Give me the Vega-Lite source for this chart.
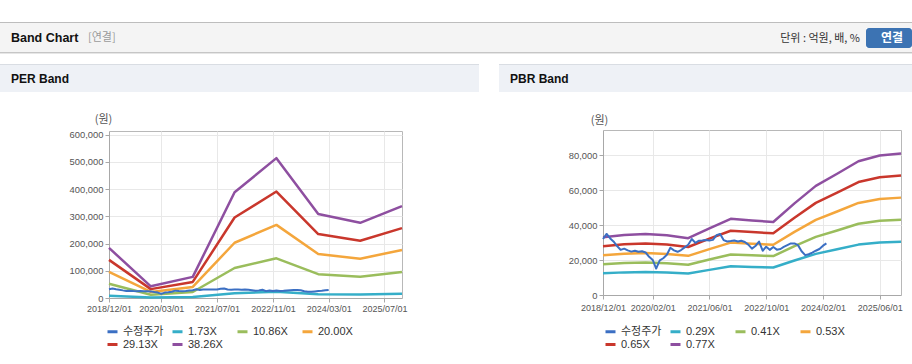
{
  "$schema": "https://vega.github.io/schema/vega-lite/v6.json",
  "background": "white",
  "padding": {"left": 0, "top": 22, "right": 0, "bottom": 0},
  "spacing": 10,
  "config": {"view": {"stroke": null}},
  "datasets": {
    "price": [
      {"date": "2018-12-01", "series": "수정주가", "value": 32000},
      {"date": "2019-01-01", "series": "수정주가", "value": 34900},
      {"date": "2019-02-01", "series": "수정주가", "value": 32300},
      {"date": "2019-03-01", "series": "수정주가", "value": 30600},
      {"date": "2019-04-01", "series": "수정주가", "value": 28000},
      {"date": "2019-05-01", "series": "수정주가", "value": 25800},
      {"date": "2019-06-01", "series": "수정주가", "value": 26500},
      {"date": "2019-07-01", "series": "수정주가", "value": 25500},
      {"date": "2019-08-01", "series": "수정주가", "value": 24800},
      {"date": "2019-09-01", "series": "수정주가", "value": 25300},
      {"date": "2019-10-01", "series": "수정주가", "value": 24700},
      {"date": "2019-11-01", "series": "수정주가", "value": 25000},
      {"date": "2019-12-01", "series": "수정주가", "value": 24300},
      {"date": "2020-01-01", "series": "수정주가", "value": 21800},
      {"date": "2020-02-01", "series": "수정주가", "value": 20000},
      {"date": "2020-03-01", "series": "수정주가", "value": 15100},
      {"date": "2020-04-01", "series": "수정주가", "value": 19800},
      {"date": "2020-05-01", "series": "수정주가", "value": 21000},
      {"date": "2020-06-01", "series": "수정주가", "value": 23000},
      {"date": "2020-07-01", "series": "수정주가", "value": 27000},
      {"date": "2020-08-01", "series": "수정주가", "value": 25500},
      {"date": "2020-09-01", "series": "수정주가", "value": 24700},
      {"date": "2020-10-01", "series": "수정주가", "value": 25700},
      {"date": "2020-11-01", "series": "수정주가", "value": 27200},
      {"date": "2020-12-01", "series": "수정주가", "value": 28700},
      {"date": "2021-01-01", "series": "수정주가", "value": 32000},
      {"date": "2021-02-01", "series": "수정주가", "value": 29800},
      {"date": "2021-03-01", "series": "수정주가", "value": 31000},
      {"date": "2021-04-01", "series": "수정주가", "value": 31100},
      {"date": "2021-05-01", "series": "수정주가", "value": 31400},
      {"date": "2021-06-01", "series": "수정주가", "value": 31200},
      {"date": "2021-07-01", "series": "수정주가", "value": 31500},
      {"date": "2021-08-01", "series": "수정주가", "value": 34200},
      {"date": "2021-09-01", "series": "수정주가", "value": 34900},
      {"date": "2021-10-01", "series": "수정주가", "value": 31400},
      {"date": "2021-11-01", "series": "수정주가", "value": 30600},
      {"date": "2021-12-01", "series": "수정주가", "value": 30800},
      {"date": "2022-01-01", "series": "수정주가", "value": 31100},
      {"date": "2022-02-01", "series": "수정주가", "value": 30600},
      {"date": "2022-03-01", "series": "수정주가", "value": 31000},
      {"date": "2022-04-01", "series": "수정주가", "value": 30300},
      {"date": "2022-05-01", "series": "수정주가", "value": 28800},
      {"date": "2022-06-01", "series": "수정주가", "value": 26500},
      {"date": "2022-07-01", "series": "수정주가", "value": 28000},
      {"date": "2022-08-01", "series": "수정주가", "value": 30500},
      {"date": "2022-09-01", "series": "수정주가", "value": 25300},
      {"date": "2022-10-01", "series": "수정주가", "value": 27600},
      {"date": "2022-11-01", "series": "수정주가", "value": 25800},
      {"date": "2022-12-01", "series": "수정주가", "value": 27400},
      {"date": "2023-01-01", "series": "수정주가", "value": 25900},
      {"date": "2023-02-01", "series": "수정주가", "value": 26300},
      {"date": "2023-03-01", "series": "수정주가", "value": 27500},
      {"date": "2023-04-01", "series": "수정주가", "value": 28500},
      {"date": "2023-05-01", "series": "수정주가", "value": 29500},
      {"date": "2023-06-01", "series": "수정주가", "value": 29500},
      {"date": "2023-07-01", "series": "수정주가", "value": 28500},
      {"date": "2023-08-01", "series": "수정주가", "value": 25000},
      {"date": "2023-09-01", "series": "수정주가", "value": 22800},
      {"date": "2023-10-01", "series": "수정주가", "value": 23300},
      {"date": "2023-11-01", "series": "수정주가", "value": 24200},
      {"date": "2023-12-01", "series": "수정주가", "value": 25300},
      {"date": "2024-01-01", "series": "수정주가", "value": 26300},
      {"date": "2024-02-01", "series": "수정주가", "value": 28200},
      {"date": "2024-03-01", "series": "수정주가", "value": 29500}
    ],
    "per": [
      {"date": "2018-12-01", "series": "1.73X", "value": 8320},
      {"date": "2019-12-01", "series": "1.73X", "value": 1940},
      {"date": "2020-12-01", "series": "1.73X", "value": 3510},
      {"date": "2021-12-01", "series": "1.73X", "value": 17560},
      {"date": "2022-12-01", "series": "1.73X", "value": 23230},
      {"date": "2023-12-01", "series": "1.73X", "value": 13960},
      {"date": "2024-12-01", "series": "1.73X", "value": 12490},
      {"date": "2025-12-01", "series": "1.73X", "value": 15260},
      {"date": "2018-12-01", "series": "10.86X", "value": 52240},
      {"date": "2019-12-01", "series": "10.86X", "value": 12160},
      {"date": "2020-12-01", "series": "10.86X", "value": 22050},
      {"date": "2021-12-01", "series": "10.86X", "value": 110230},
      {"date": "2022-12-01", "series": "10.86X", "value": 145850},
      {"date": "2023-12-01", "series": "10.86X", "value": 87640},
      {"date": "2024-12-01", "series": "10.86X", "value": 78410},
      {"date": "2025-12-01", "series": "10.86X", "value": 95790},
      {"date": "2018-12-01", "series": "20.00X", "value": 96200},
      {"date": "2019-12-01", "series": "20.00X", "value": 22400},
      {"date": "2020-12-01", "series": "20.00X", "value": 40600},
      {"date": "2021-12-01", "series": "20.00X", "value": 203000},
      {"date": "2022-12-01", "series": "20.00X", "value": 268600},
      {"date": "2023-12-01", "series": "20.00X", "value": 161400},
      {"date": "2024-12-01", "series": "20.00X", "value": 144400},
      {"date": "2025-12-01", "series": "20.00X", "value": 176400},
      {"date": "2018-12-01", "series": "29.13X", "value": 140120},
      {"date": "2019-12-01", "series": "29.13X", "value": 32630},
      {"date": "2020-12-01", "series": "29.13X", "value": 59130},
      {"date": "2021-12-01", "series": "29.13X", "value": 295670},
      {"date": "2022-12-01", "series": "29.13X", "value": 391220},
      {"date": "2023-12-01", "series": "29.13X", "value": 235080},
      {"date": "2024-12-01", "series": "29.13X", "value": 210320},
      {"date": "2025-12-01", "series": "29.13X", "value": 256930},
      {"date": "2018-12-01", "series": "38.26X", "value": 184030},
      {"date": "2019-12-01", "series": "38.26X", "value": 42850},
      {"date": "2020-12-01", "series": "38.26X", "value": 77670},
      {"date": "2021-12-01", "series": "38.26X", "value": 388340},
      {"date": "2022-12-01", "series": "38.26X", "value": 513830},
      {"date": "2023-12-01", "series": "38.26X", "value": 308760},
      {"date": "2024-12-01", "series": "38.26X", "value": 276240},
      {"date": "2025-12-01", "series": "38.26X", "value": 337450}
    ],
    "pbr": [
      {"date": "2018-12-01", "series": "0.29X", "value": 12440},
      {"date": "2019-06-01", "series": "0.29X", "value": 12930},
      {"date": "2019-12-01", "series": "0.29X", "value": 13110},
      {"date": "2020-06-01", "series": "0.29X", "value": 12850},
      {"date": "2020-12-01", "series": "0.29X", "value": 12240},
      {"date": "2021-06-01", "series": "0.29X", "value": 14360},
      {"date": "2021-12-01", "series": "0.29X", "value": 16390},
      {"date": "2022-06-01", "series": "0.29X", "value": 16040},
      {"date": "2022-12-01", "series": "0.29X", "value": 15720},
      {"date": "2023-06-01", "series": "0.29X", "value": 19720},
      {"date": "2023-12-01", "series": "0.29X", "value": 23490},
      {"date": "2024-06-01", "series": "0.29X", "value": 26100},
      {"date": "2024-12-01", "series": "0.29X", "value": 28800},
      {"date": "2025-06-01", "series": "0.29X", "value": 30020},
      {"date": "2025-12-01", "series": "0.29X", "value": 30450},
      {"date": "2018-12-01", "series": "0.41X", "value": 17590},
      {"date": "2019-06-01", "series": "0.41X", "value": 18290},
      {"date": "2019-12-01", "series": "0.41X", "value": 18530},
      {"date": "2020-06-01", "series": "0.41X", "value": 18160},
      {"date": "2020-12-01", "series": "0.41X", "value": 17300},
      {"date": "2021-06-01", "series": "0.41X", "value": 20300},
      {"date": "2021-12-01", "series": "0.41X", "value": 23170},
      {"date": "2022-06-01", "series": "0.41X", "value": 22670},
      {"date": "2022-12-01", "series": "0.41X", "value": 22220},
      {"date": "2023-06-01", "series": "0.41X", "value": 27880},
      {"date": "2023-12-01", "series": "0.41X", "value": 33210},
      {"date": "2024-06-01", "series": "0.41X", "value": 36900},
      {"date": "2024-12-01", "series": "0.41X", "value": 40710},
      {"date": "2025-06-01", "series": "0.41X", "value": 42440},
      {"date": "2025-12-01", "series": "0.41X", "value": 43050},
      {"date": "2018-12-01", "series": "0.53X", "value": 22740},
      {"date": "2019-06-01", "series": "0.53X", "value": 23640},
      {"date": "2019-12-01", "series": "0.53X", "value": 23960},
      {"date": "2020-06-01", "series": "0.53X", "value": 23480},
      {"date": "2020-12-01", "series": "0.53X", "value": 22370},
      {"date": "2021-06-01", "series": "0.53X", "value": 26240},
      {"date": "2021-12-01", "series": "0.53X", "value": 29950},
      {"date": "2022-06-01", "series": "0.53X", "value": 29310},
      {"date": "2022-12-01", "series": "0.53X", "value": 28730},
      {"date": "2023-06-01", "series": "0.53X", "value": 36040},
      {"date": "2023-12-01", "series": "0.53X", "value": 42930},
      {"date": "2024-06-01", "series": "0.53X", "value": 47700},
      {"date": "2024-12-01", "series": "0.53X", "value": 52630},
      {"date": "2025-06-01", "series": "0.53X", "value": 54860},
      {"date": "2025-12-01", "series": "0.53X", "value": 55650},
      {"date": "2018-12-01", "series": "0.65X", "value": 27890},
      {"date": "2019-06-01", "series": "0.65X", "value": 28990},
      {"date": "2019-12-01", "series": "0.65X", "value": 29380},
      {"date": "2020-06-01", "series": "0.65X", "value": 28800},
      {"date": "2020-12-01", "series": "0.65X", "value": 27430},
      {"date": "2021-06-01", "series": "0.65X", "value": 32180},
      {"date": "2021-12-01", "series": "0.65X", "value": 36730},
      {"date": "2022-06-01", "series": "0.65X", "value": 35950},
      {"date": "2022-12-01", "series": "0.65X", "value": 35230},
      {"date": "2023-06-01", "series": "0.65X", "value": 44200},
      {"date": "2023-12-01", "series": "0.65X", "value": 52650},
      {"date": "2024-06-01", "series": "0.65X", "value": 58500},
      {"date": "2024-12-01", "series": "0.65X", "value": 64550},
      {"date": "2025-06-01", "series": "0.65X", "value": 67280},
      {"date": "2025-12-01", "series": "0.65X", "value": 68250},
      {"date": "2018-12-01", "series": "0.77X", "value": 33030},
      {"date": "2019-06-01", "series": "0.77X", "value": 34340},
      {"date": "2019-12-01", "series": "0.77X", "value": 34800},
      {"date": "2020-06-01", "series": "0.77X", "value": 34110},
      {"date": "2020-12-01", "series": "0.77X", "value": 32490},
      {"date": "2021-06-01", "series": "0.77X", "value": 38120},
      {"date": "2021-12-01", "series": "0.77X", "value": 43510},
      {"date": "2022-06-01", "series": "0.77X", "value": 42580},
      {"date": "2022-12-01", "series": "0.77X", "value": 41730},
      {"date": "2023-06-01", "series": "0.77X", "value": 52360},
      {"date": "2023-12-01", "series": "0.77X", "value": 62370},
      {"date": "2024-06-01", "series": "0.77X", "value": 69300},
      {"date": "2024-12-01", "series": "0.77X", "value": 76460},
      {"date": "2025-06-01", "series": "0.77X", "value": 79700},
      {"date": "2025-12-01", "series": "0.77X", "value": 80850}
    ]
  },
  "vconcat": [
    {
      "spacing": 0,
      "vconcat": [
        {"width": 912, "height": 1, "data": {"values": []}, "mark": "point", "view": {"fill": "#bdbdbd", "stroke": null}},
        {
          "spacing": 0,
          "hconcat": [
            {"width": 85, "height": 29, "data": {"values": []}, "mark": "point", "view": {"fill": "#f4f4f4", "stroke": null},
             "title": {"text": "Band Chart", "anchor": "start", "frame": "group", "orient": "bottom", "offset": -13.7, "dx": 11, "baseline": "middle", "align": "left", "font": "Liberation Sans", "fontSize": 12.5, "fontWeight": "bold", "color": "#111111"}},
            {"width": 680, "height": 29, "data": {"values": []}, "mark": "point", "view": {"fill": "#f4f4f4", "stroke": null},
             "title": {"text": "[연결]", "anchor": "start", "frame": "group", "orient": "bottom", "offset": -14, "dx": 3, "baseline": "middle", "align": "left", "font": "Noto Sans CJK KR", "fontSize": 11, "fontWeight": "normal", "color": "#9a9a9a"}},
            {"width": 101, "height": 29, "data": {"values": []}, "mark": "point", "view": {"fill": "#f4f4f4", "stroke": null},
             "title": {"text": "단위 : 억원, 배, %", "anchor": "end", "frame": "group", "orient": "bottom", "offset": -13.5, "dx": -6, "baseline": "middle", "align": "right", "font": "Noto Sans CJK KR", "fontSize": 11, "fontWeight": "normal", "color": "#333333"}},
            {
              "spacing": 0,
              "vconcat": [
                {"width": 46, "height": 5, "data": {"values": []}, "mark": "point", "view": {"fill": "#f4f4f4", "stroke": null}},
                {"width": 46, "height": 20, "data": {"values": []}, "mark": "point", "view": {"fill": "#3c73b3", "stroke": null, "cornerRadius": 3},
                 "title": {"text": "연결", "anchor": "middle", "frame": "group", "orient": "bottom", "offset": -10.5, "dx": 3, "baseline": "middle", "align": "center", "font": "Noto Sans CJK KR", "fontSize": 12, "fontWeight": "bold", "color": "#ffffff"}},
                {"width": 46, "height": 4, "data": {"values": []}, "mark": "point", "view": {"fill": "#f4f4f4", "stroke": null}}
              ]
            }
          ]
        },
        {"width": 912, "height": 1, "data": {"values": []}, "mark": "point", "view": {"fill": "#c6c6c6", "stroke": null}},
        {"width": 912, "height": 1, "data": {"values": []}, "mark": "point", "view": {"fill": "#e6e6e6", "stroke": null}}
      ]
    },
    {
      "spacing": 20,
      "resolve": {"scale": {"color": "independent"}, "legend": {"color": "independent"}},
      "hconcat": [
        {
          "spacing": 0,
          "vconcat": [
            {"width": 479, "height": 1, "data": {"values": []}, "mark": "point", "view": {"fill": "#d9dde3", "stroke": null}},
            {"width": 479, "height": 27, "data": {"values": []}, "mark": "point", "view": {"fill": "#eef1f6", "stroke": null},
             "title": {"text": "PER Band", "anchor": "start", "frame": "group", "orient": "bottom", "offset": -12.7, "dx": 11, "baseline": "middle", "align": "left", "font": "Liberation Sans", "fontSize": 12, "fontWeight": "bold", "color": "#111111"}},
            {"width": 479, "height": 19.5, "data": {"values": []}, "mark": "point", "view": {"stroke": null}},
            {
              "bounds": "flush",
              "spacing": 0,
              "hconcat": [
                {"width": 109, "height": 1, "data": {"values": []}, "mark": "point", "view": {"stroke": null}},
                {
                  "width": 293,
                  "height": 167,
                  "view": {"stroke": "#b8b8b8", "fill": "#ffffff"},
                  "encoding": {
                    "x": {"field": "date", "type": "temporal",
                      "scale": {"type": "utc", "domain": [{"year": 2018, "month": 12, "date": 1, "utc": true}, {"year": 2025, "month": 12, "date": 1, "utc": true}]},
                      "axis": {"values": [{"year": 2018, "month": 12, "date": 1, "utc": true}, {"year": 2020, "month": 3, "date": 1, "utc": true}, {"year": 2021, "month": 7, "date": 1, "utc": true}, {"year": 2022, "month": 11, "date": 1, "utc": true}, {"year": 2024, "month": 3, "date": 1, "utc": true}, {"year": 2025, "month": 7, "date": 1, "utc": true}],
                        "labelExpr": "utcFormat(datum.value, '%Y/%m/%d')", "title": null, "grid": true, "gridColor": "#e8e8e8", "domainColor": "#a8a8a8", "tickColor": "#a8a8a8", "tickSize": 4, "labelFont": "Liberation Sans", "labelFontSize": 9, "labelColor": "#555555", "labelPadding": 2, "labelOverlap": false, "labelFlush": false}},
                    "y": {"field": "value", "type": "quantitative",
                      "scale": {"domain": [0, 613600], "nice": false, "zero": true},
                      "axis": {"values": [0, 100000, 200000, 300000, 400000, 500000, 600000], "format": ",d", "title": "(원)", "titleAngle": 0, "titleX": -6, "titleY": -12, "titleAlign": "center", "titleBaseline": "middle", "titleFont": "Noto Sans CJK KR", "titleFontSize": 11, "titleFontWeight": "normal", "titleColor": "#555555", "grid": true, "gridColor": "#e8e8e8", "domainColor": "#a8a8a8", "tickColor": "#a8a8a8", "tickSize": 4, "labelFont": "Liberation Sans", "labelFontSize": 9.4, "labelColor": "#555555", "labelPadding": 2}},
                    "color": {"field": "series", "type": "nominal",
                      "scale": {"domain": ["수정주가", "1.73X", "10.86X", "20.00X", "29.13X", "38.26X"], "range": ["#3b6fc3", "#35aec8", "#9abd5c", "#f4a63c", "#c9372c", "#8e4fa0"]},
                      "legend": {"orient": "none", "legendX": 106, "legendY": 261, "direction": "horizontal", "columns": 4, "title": null, "symbolType": "stroke", "symbolSize": 100, "symbolStrokeWidth": 3, "labelFont": "Liberation Sans, Noto Sans CJK KR", "labelFontSize": 11, "labelColor": "#333333", "labelOffset": 4, "columnPadding": 2, "rowPadding": 0, "gridAlign": "all"}}
                  },
                  "layer": [
                    {"data": {"name": "per"}, "mark": {"type": "line", "strokeWidth": 2.5, "strokeJoin": "round"}},
                    {"data": {"name": "price"}, "mark": {"type": "line", "strokeWidth": 2, "strokeJoin": "round"}}
                  ]
                }
              ]
            }
          ]
        },
        {
          "spacing": 0,
          "vconcat": [
            {"width": 413, "height": 1, "data": {"values": []}, "mark": "point", "view": {"fill": "#d9dde3", "stroke": null}},
            {"width": 413, "height": 27, "data": {"values": []}, "mark": "point", "view": {"fill": "#eef1f6", "stroke": null},
             "title": {"text": "PBR Band", "anchor": "start", "frame": "group", "orient": "bottom", "offset": -12.7, "dx": 11, "baseline": "middle", "align": "left", "font": "Liberation Sans", "fontSize": 12, "fontWeight": "bold", "color": "#111111"}},
            {"width": 413, "height": 20.5, "data": {"values": []}, "mark": "point", "view": {"stroke": null}},
            {
              "bounds": "flush",
              "spacing": 0,
              "hconcat": [
                {"width": 104, "height": 1, "data": {"values": []}, "mark": "point", "view": {"stroke": null}},
                {
                  "width": 298,
                  "height": 165,
                  "view": {"stroke": "#b8b8b8", "fill": "#ffffff"},
                  "encoding": {
                    "x": {"field": "date", "type": "temporal",
                      "scale": {"type": "utc", "domain": [{"year": 2018, "month": 12, "date": 1, "utc": true}, {"year": 2025, "month": 12, "date": 1, "utc": true}]},
                      "axis": {"values": [{"year": 2018, "month": 12, "date": 1, "utc": true}, {"year": 2020, "month": 2, "date": 1, "utc": true}, {"year": 2021, "month": 6, "date": 1, "utc": true}, {"year": 2022, "month": 10, "date": 1, "utc": true}, {"year": 2024, "month": 2, "date": 1, "utc": true}, {"year": 2025, "month": 6, "date": 1, "utc": true}],
                        "labelExpr": "utcFormat(datum.value, '%Y/%m/%d')", "title": null, "grid": true, "gridColor": "#e8e8e8", "domainColor": "#a8a8a8", "tickColor": "#a8a8a8", "tickSize": 4, "labelFont": "Liberation Sans", "labelFontSize": 9, "labelColor": "#555555", "labelPadding": 4, "labelOverlap": false, "labelFlush": false}},
                    "y": {"field": "value", "type": "quantitative",
                      "scale": {"domain": [0, 94300], "nice": false, "zero": true},
                      "axis": {"values": [0, 20000, 40000, 60000, 80000], "format": ",d", "title": "(원)", "titleAngle": 0, "titleX": -4, "titleY": -10, "titleAlign": "center", "titleBaseline": "middle", "titleFont": "Noto Sans CJK KR", "titleFontSize": 11, "titleFontWeight": "normal", "titleColor": "#555555", "grid": true, "gridColor": "#e8e8e8", "domainColor": "#a8a8a8", "tickColor": "#a8a8a8", "tickSize": 4, "labelFont": "Liberation Sans", "labelFontSize": 9.4, "labelColor": "#555555", "labelPadding": 2}},
                    "color": {"field": "series", "type": "nominal",
                      "scale": {"domain": ["수정주가", "0.29X", "0.41X", "0.53X", "0.65X", "0.77X"], "range": ["#3b6fc3", "#35aec8", "#9abd5c", "#f4a63c", "#c9372c", "#8e4fa0"]},
                      "legend": {"orient": "none", "legendX": 105, "legendY": 261, "direction": "horizontal", "columns": 4, "title": null, "symbolType": "stroke", "symbolSize": 100, "symbolStrokeWidth": 3, "labelFont": "Liberation Sans, Noto Sans CJK KR", "labelFontSize": 11, "labelColor": "#333333", "labelOffset": 4, "columnPadding": 2, "rowPadding": 0, "gridAlign": "all"}}
                  },
                  "layer": [
                    {"data": {"name": "pbr"}, "mark": {"type": "line", "strokeWidth": 2.5, "strokeJoin": "round"}},
                    {"data": {"name": "price"}, "mark": {"type": "line", "strokeWidth": 2, "strokeJoin": "round"}}
                  ]
                }
              ]
            }
          ]
        }
      ]
    }
  ]
}
